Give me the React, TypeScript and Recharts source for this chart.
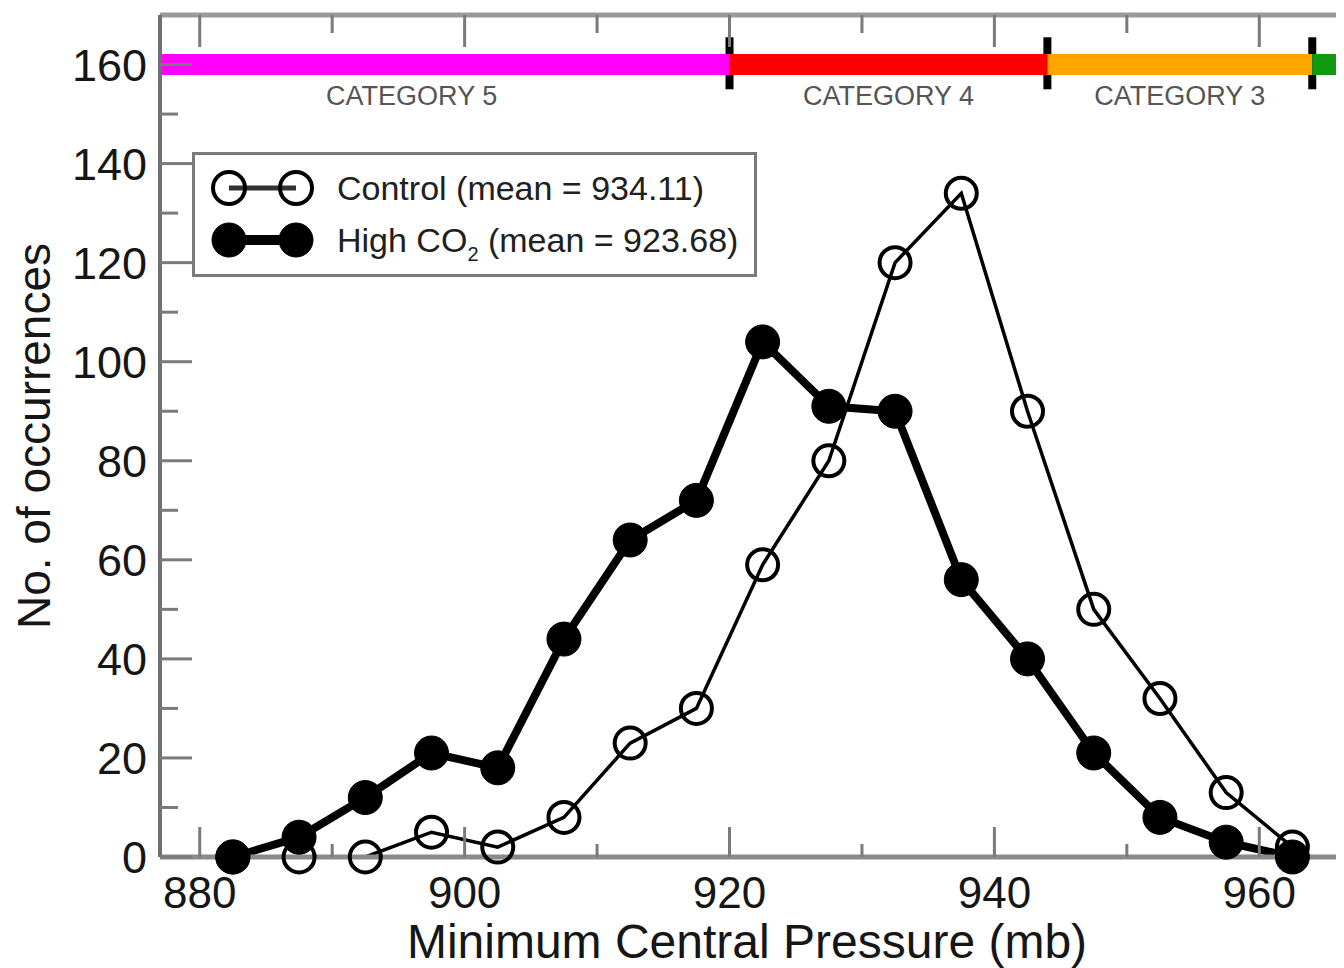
import React from 'react';
import { LineChart, Line, XAxis, YAxis, ReferenceLine, ReferenceDot } from 'recharts';

// ---- data ----
const pressureBins = [882.5, 887.5, 892.5, 897.5, 902.5, 907.5, 912.5, 917.5, 922.5, 927.5, 932.5, 937.5, 942.5, 947.5, 952.5, 957.5, 962.5];
const controlCounts = [0, 0, 0, 5, 2, 8, 23, 30, 59, 80, 120, 134, 90, 50, 32, 13, 2];
const highCO2Counts = [0, 4, 12, 21, 18, 44, 64, 72, 104, 91, 90, 56, 40, 21, 8, 3, 0];

const xTicks = [880, 890, 900, 910, 920, 930, 940, 950, 960];
const yTicks = [0, 10, 20, 30, 40, 50, 60, 70, 80, 90, 100, 110, 120, 130, 140, 150, 160];
const xDomain = [877, 967];
const yDomain = [0, 170];

const categoryNames = ['CATEGORY 5', 'CATEGORY 4', 'CATEGORY 3', ''];
const categoryStart = [877, 920, 944, 964];
const categoryEnd = [920, 944, 964, 967];
const categoryColors = ['#ff00ff', '#ff0000', '#ffa500', '#0f9a0f'];
const categoryLabelX = [896, 932, 954];
const categoryBoundaries = [920, 944, 964];
const categoryLevel = 160;
const categoryLabelLevel = 153.7;
const markerLow = 155;
const markerHigh = 165.5;

const seriesNames = ['Control', 'High CO'];
const seriesSubscripts = ['', '2'];
const seriesMeans = ['934.11', '923.68'];

const xTitle = 'Minimum Central Pressure (mb)';
const yTitle = 'No. of occurrences';

const chartData = pressureBins.map((p, i) => ({ p, control: controlCounts[i], high: highCO2Counts[i] }));

// ---- styles ----
const FONT = '"Liberation Sans", Arial, Helvetica, sans-serif';
const AXIS_COLOR = '#8a8a8a';
const TICK_COLOR = '#7a7a7a';
const TEXT_COLOR = '#161616';

const BottomTick = (props: any) => {
  const { x, y, payload } = props;
  const v = payload.value;
  const major = v % 20 === 0;
  return (
    <g>
      <line x1={x} x2={x} y1={y} y2={y - (major ? 30 : 13)} stroke={TICK_COLOR} strokeWidth={3} />
      {major && (
        <text x={x} y={y + 51} textAnchor="middle" fontSize={44} fontFamily={FONT} fill={TEXT_COLOR}>
          {v}
        </text>
      )}
    </g>
  );
};

const TopTick = (props: any) => {
  const { x, y, payload } = props;
  const major = payload.value % 20 === 0;
  return <line x1={x} x2={x} y1={y} y2={y + (major ? 32 : 18)} stroke={TICK_COLOR} strokeWidth={3} />;
};

const LeftTick = (props: any) => {
  const { x, y, payload } = props;
  const v = payload.value;
  const major = v % 20 === 0;
  return (
    <g>
      <line x1={x} x2={x + (major ? 32 : 18)} y1={y} y2={y} stroke={TICK_COLOR} strokeWidth={3} />
      {major && (
        <text x={x - 13} y={y} dy="0.36em" textAnchor="end" fontSize={45} fontFamily={FONT} fill={TEXT_COLOR}>
          {v}
        </text>
      )}
    </g>
  );
};

const RightTick = (props: any) => {
  const { x, y, payload } = props;
  const major = payload.value % 20 === 0;
  return <line x1={x} x2={x - (major ? 30 : 13)} y1={y} y2={y} stroke={TICK_COLOR} strokeWidth={3} />;
};

const XTitle = (props: any) => {
  const vb = props.viewBox || {};
  const cx = vb.x + vb.width / 2 - 9;
  const by = vb.y + vb.height - 12;
  return (
    <text x={cx} y={by} textAnchor="middle" fontSize={48} fontFamily={FONT} fill={TEXT_COLOR}>
      {xTitle}
    </text>
  );
};

const YTitle = (props: any) => {
  const vb = props.viewBox || {};
  const cx = vb.x + 26;
  const cy = vb.y + vb.height / 2;
  return (
    <text
      x={cx}
      y={cy}
      transform={`rotate(-90 ${cx} ${cy})`}
      textAnchor="middle"
      dominantBaseline="central"
      fontSize={46}
      fontFamily={FONT}
      fill={TEXT_COLOR}
    >
      {yTitle}
    </text>
  );
};

const LegendBox = () => {
  const rowY = [36, 88];
  return (
    <svg width={565} height={125} style={{ position: 'absolute', left: 184, top: 144 }}>
      <rect x={1.5} y={1.5} width={562} height={122} fill="#ffffff" stroke="#7a7a7a" strokeWidth={3} />
      {seriesNames.map((name, i) => {
        const cy = rowY[i];
        const filled = i === 1;
        return (
          <g key={name}>
            <line x1={37} x2={104} y1={cy} y2={cy} stroke={filled ? '#000' : '#333'} strokeWidth={filled ? 10 : 5} />
            <circle cx={37} cy={cy} r={filled ? 17 : 16} fill={filled ? '#000' : 'none'} stroke="#000" strokeWidth={filled ? 1 : 4} />
            <circle cx={104} cy={cy} r={filled ? 17 : 16} fill={filled ? '#000' : 'none'} stroke="#000" strokeWidth={filled ? 1 : 4} />
            <text x={145} y={cy + 12} fontSize={34} fontFamily={FONT} fill="#202020">
              {name}
              {seriesSubscripts[i] ? (
                <tspan dy={9} fontSize={20}>
                  {seriesSubscripts[i]}
                </tspan>
              ) : null}
              <tspan dy={seriesSubscripts[i] ? -9 : 0}>{` (mean = ${seriesMeans[i]})`}</tspan>
            </text>
          </g>
        );
      })}
    </svg>
  );
};

export default function App() {
  return (
    <div style={{ position: 'relative', width: 1336, height: 960, overflow: 'hidden' }}>
      <LineChart width={1360} height={962} data={chartData} margin={{ top: 6, right: 15, bottom: 0, left: 0 }}>
        <XAxis
          xAxisId="bottom"
          dataKey="p"
          type="number"
          domain={xDomain}
          ticks={xTicks}
          interval={0}
          orientation="bottom"
          height={113}
          tickSize={0}
          tickMargin={0}
          tickLine={false}
          axisLine={{ stroke: AXIS_COLOR, strokeWidth: 5 }}
          tick={BottomTick}
          label={XTitle}
        />
        <XAxis
          xAxisId="top"
          dataKey="p"
          type="number"
          domain={xDomain}
          ticks={xTicks}
          interval={0}
          orientation="top"
          height={1}
          tickSize={0}
          tickMargin={0}
          tickLine={false}
          axisLine={{ stroke: '#9a9a9a', strokeWidth: 5 }}
          tick={TopTick}
        />
        <YAxis
          yAxisId="left"
          type="number"
          domain={yDomain}
          ticks={yTicks}
          interval={0}
          orientation="left"
          width={152}
          tickSize={0}
          tickMargin={0}
          tickLine={false}
          axisLine={{ stroke: '#707070', strokeWidth: 4 }}
          tick={LeftTick}
          label={YTitle}
        />
        <YAxis
          yAxisId="right"
          type="number"
          domain={yDomain}
          ticks={yTicks}
          interval={0}
          orientation="right"
          width={1}
          tickSize={0}
          tickMargin={0}
          tickLine={false}
          axisLine={{ stroke: AXIS_COLOR, strokeWidth: 4 }}
          tick={RightTick}
        />

        {categoryBoundaries.map((b) => (
          <ReferenceLine
            key={`m${b}`}
            xAxisId="bottom"
            yAxisId="left"
            segment={[{ x: b, y: markerLow }, { x: b, y: markerHigh }]}
            stroke="#000"
            strokeWidth={8}
            ifOverflow="visible"
          />
        ))}
        {categoryColors.map((c, i) => (
          <ReferenceLine
            key={`c${i}`}
            xAxisId="bottom"
            yAxisId="left"
            segment={[{ x: categoryStart[i], y: categoryLevel }, { x: categoryEnd[i], y: categoryLevel }]}
            stroke={c}
            strokeWidth={21}
            ifOverflow="visible"
          />
        ))}
        {categoryLabelX.map((lx, i) => (
          <ReferenceDot
            key={`l${i}`}
            xAxisId="bottom"
            yAxisId="left"
            x={lx}
            y={categoryLabelLevel}
            r={0}
            fill="none"
            stroke="none"
            ifOverflow="visible"
            label={{ value: categoryNames[i], position: 'center', fontSize: 27, fill: '#555555', fontFamily: FONT }}
          />
        ))}

        <Line
          xAxisId="bottom"
          yAxisId="left"
          dataKey="high"
          name="High CO2"
          stroke="#000"
          strokeWidth={8}
          dot={{ r: 17, fill: '#000', stroke: '#000', strokeWidth: 1 }}
          isAnimationActive={false}
        />
        <Line
          xAxisId="bottom"
          yAxisId="left"
          dataKey="control"
          name="Control"
          stroke="#000"
          strokeWidth={3.5}
          dot={{ r: 15.5, fill: 'none', stroke: '#000', strokeWidth: 4 }}
          isAnimationActive={false}
        />
      </LineChart>
      <LegendBox />
    </div>
  );
}
